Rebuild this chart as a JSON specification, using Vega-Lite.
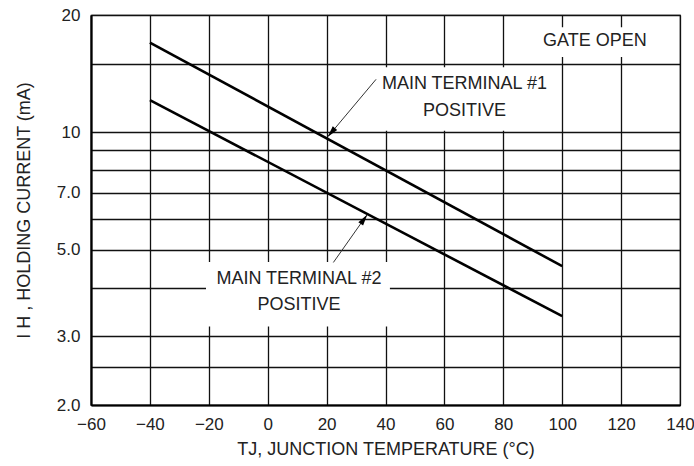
{
  "$schema": "https://vega.github.io/schema/vega-lite/v6.json",
  "width": 589,
  "height": 390,
  "autosize": "none",
  "padding": {"left": 91, "top": 15, "right": 14, "bottom": 61},
  "background": "white",
  "config": {
    "font": "Liberation Sans",
    "view": {"stroke": "#222", "strokeWidth": 1.2},
    "axis": {
      "grid": true, "gridColor": "#111", "gridWidth": 1.3, "gridOpacity": 1,
      "domainColor": "#000", "domainWidth": 2.2, "ticks": false,
      "labelFont": "Liberation Sans", "labelFontSize": 17, "labelColor": "#222",
      "titleFont": "Liberation Sans", "titleFontSize": 18, "titleFontWeight": "normal", "titleColor": "#222",
      "labelOverlap": false, "labelFlush": false
    }
  },
  "datasets": {
    "lines": [
      {"series": "MT1", "temp": -40, "ih": 17.0},
      {"series": "MT1", "temp": 100, "ih": 4.54},
      {"series": "MT2", "temp": -40, "ih": 12.1},
      {"series": "MT2", "temp": 100, "ih": 3.38}
    ],
    "boxes": [
      {"name": "GATE", "t1": 92.5, "t2": 129.8, "i1": 15.6, "i2": 18.6},
      {"name": "MT1", "t1": 38.8, "t2": 95.2, "i1": 10.1, "i2": 14.7},
      {"name": "MT2", "t1": -20.95, "t2": 41.5, "i1": 3.18, "i2": 4.65}
    ],
    "labels": [
      {"text": "GATE OPEN", "temp": 111.1, "ih": 17.2},
      {"text": "MAIN TERMINAL #1", "temp": 66.8, "ih": 13.3},
      {"text": "POSITIVE", "temp": 66.8, "ih": 11.36},
      {"text": "MAIN TERMINAL #2", "temp": 10.6, "ih": 4.21},
      {"text": "POSITIVE", "temp": 10.6, "ih": 3.6}
    ],
    "arrows": [
      {"series": "MT1", "t1": 36.8, "i1": 13.68, "t2": 20.6, "i2": 9.78},
      {"series": "MT2", "t1": 22.3, "i1": 4.64, "t2": 33.6, "i2": 6.13}
    ],
    "heads": [
      {"series": "MT1", "temp": 21.9, "ih": 10.05},
      {"series": "MT2", "temp": 32.43, "ih": 5.95}
    ]
  },
  "layer": [
    {
      "data": {"name": "boxes"},
      "mark": {"type": "rect", "fill": "white", "stroke": null},
      "encoding": {
        "x": {"field": "t1", "type": "quantitative",
          "scale": {"domain": [-60, 140], "nice": false, "zero": false},
          "axis": {"values": [-60, -40, -20, 0, 20, 40, 60, 80, 100, 120, 140], "labelPadding": 11, "titlePadding": 8,
            "title": "TJ, JUNCTION TEMPERATURE (°C)"}},
        "x2": {"field": "t2"},
        "y": {"field": "i1", "type": "quantitative",
          "scale": {"type": "log", "domain": [2, 20], "nice": false},
          "axis": {"values": [2, 2.5, 3, 4, 5, 6, 7, 8, 9, 10, 15, 20], "labelPadding": 11, "titlePadding": 23,
            "labelExpr": "datum.value == 2 ? '2.0' : datum.value == 3 ? '3.0' : datum.value == 5 ? '5.0' : datum.value == 7 ? '7.0' : datum.value == 10 ? '10' : datum.value == 20 ? '20' : ''",
            "title": "I H , HOLDING CURRENT (mA)"}},
        "y2": {"field": "i2"}
      }
    },
    {
      "data": {"name": "lines"},
      "mark": {"type": "line", "color": "#000", "strokeWidth": 2.6},
      "encoding": {
        "x": {"field": "temp", "type": "quantitative"},
        "y": {"field": "ih", "type": "quantitative"},
        "detail": {"field": "series"}
      }
    },
    {
      "data": {"name": "arrows"},
      "mark": {"type": "rule", "color": "#333", "strokeWidth": 1},
      "encoding": {
        "x": {"field": "t1", "type": "quantitative"},
        "y": {"field": "i1", "type": "quantitative"},
        "x2": {"field": "t2"},
        "y2": {"field": "i2"}
      }
    },
    {
      "data": {"name": "heads"},
      "transform": [{"filter": "datum.series == 'MT1'"}],
      "mark": {"type": "point", "shape": "M0,-1L0.4,0.6L-0.4,0.6Z", "filled": true, "color": "#000", "opacity": 1, "size": 210, "angle": 220},
      "encoding": {
        "x": {"field": "temp", "type": "quantitative"},
        "y": {"field": "ih", "type": "quantitative"}
      }
    },
    {
      "data": {"name": "heads"},
      "transform": [{"filter": "datum.series == 'MT2'"}],
      "mark": {"type": "point", "shape": "M0,-1L0.4,0.6L-0.4,0.6Z", "filled": true, "color": "#000", "opacity": 1, "size": 210, "angle": 35},
      "encoding": {
        "x": {"field": "temp", "type": "quantitative"},
        "y": {"field": "ih", "type": "quantitative"}
      }
    },
    {
      "data": {"name": "labels"},
      "mark": {"type": "text", "font": "Liberation Sans", "fontSize": 18, "color": "#222", "align": "center", "baseline": "middle"},
      "encoding": {
        "x": {"field": "temp", "type": "quantitative"},
        "y": {"field": "ih", "type": "quantitative"},
        "text": {"field": "text"}
      }
    }
  ]
}
